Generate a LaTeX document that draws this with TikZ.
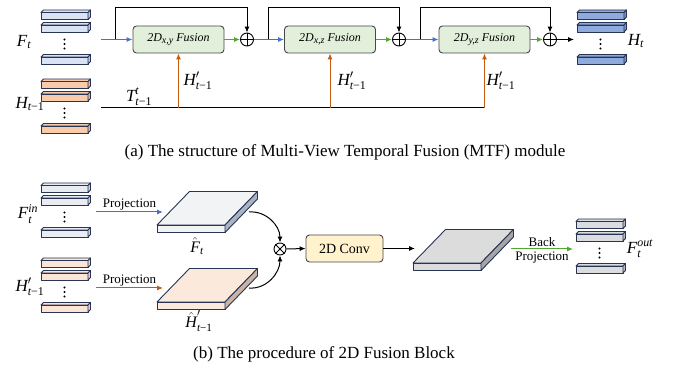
\documentclass[tikz,border=0pt]{standalone}
\usepackage{fontspec}
\usepackage{amsmath}
\setmainfont{Liberation Serif}
\usetikzlibrary{arrows.meta,calc}

% palette
\definecolor{navy}{RGB}{40,52,84}
\definecolor{boxedge}{RGB}{70,70,70}
\definecolor{fusefill}{HTML}{E2EFDA}
\definecolor{convfill}{HTML}{FFF2CC}
\definecolor{arrblue}{HTML}{4472C4}
\definecolor{arrgreen}{HTML}{4EA72E}
\definecolor{arrorange}{HTML}{C55A11}
\definecolor{ftfill}{HTML}{DAE3F3}
\definecolor{ftside}{HTML}{B4C4E0}
\definecolor{hfill}{HTML}{F8CBAD}
\definecolor{hside}{HTML}{E8B08C}
\definecolor{houtfill}{HTML}{8FAADC}
\definecolor{houtside}{HTML}{7393CC}
\definecolor{finfill}{HTML}{E9ECF1}
\definecolor{finside}{HTML}{C8CFDA}
\definecolor{hpfill}{HTML}{FBE5D6}
\definecolor{hpside}{HTML}{EBCDB8}
\definecolor{foutfill}{HTML}{DADCE0}
\definecolor{foutside}{HTML}{B7BBC3}
\definecolor{slabAtop}{HTML}{F2F3F5}
\definecolor{slabAside}{HTML}{A9B3C4}
\definecolor{slabBtop}{HTML}{FBE9DC}
\definecolor{slabBside}{HTML}{C9B3A4}
\definecolor{slabCtop}{HTML}{DCDCDC}
\definecolor{slabCside}{HTML}{A6A6A6}

\newcommand{\mv}[1]{\textit{#1}}
% lowered axis pair inside the fusion boxes
\newcommand{\axes}[1]{\raisebox{-2.5pt}{\fontsize{10}{12}\selectfont #1}}

% one feature bar: x, y of the front face's top-left corner, fill, side fill
\newcommand{\featbar}[4]{%
  \filldraw[barline, fill=#3] (#1,#2) rectangle ++(47,7);
  \filldraw[barline, fill=#3] (#1,#2) -- ++(2.5,-2.5) -- ++(47,0) -- ++(-2.5,2.5) -- cycle;
  \filldraw[barline, fill=#4] (#1+47,#2) -- ++(2.5,-2.5) -- ++(0,7) -- ++(-2.5,2.5) -- cycle;
}
% a stack of bars with a vertical ellipsis
\newcommand{\featstack}[4]{%
  \featbar{#1}{#2}{#3}{#4}
  \featbar{#1}{#2+12.5}{#3}{#4}
  \featbar{#1}{#2+44.5}{#3}{#4}
  \foreach \k in {0,1,2} \fill (#1+23.5,#2+27+\k*4.5) circle (1.1);
}
% a flat slab: x, y of the front face's top-left corner, face fill, side fill
\newcommand{\slab}[4]{%
  \filldraw[barline, fill=#3] (#1,#2) rectangle ++(68,7.5);
  \filldraw[barline, fill=#3] (#1,#2) -- ++(32.5,-33.5) -- ++(68,0) -- ++(-32.5,33.5) -- cycle;
  \filldraw[barline, fill=#4] (#1+68,#2) -- ++(32.5,-33.5) -- ++(0,7.5) -- ++(-32.5,33.5) -- cycle;
}

\tikzset{
  barline/.style={draw=navy, line width=0.9pt, line join=round},
  fusebox/.style={draw=boxedge, fill=fusefill, rounded corners=3.5pt, line width=0.9pt,
    minimum width=91pt, minimum height=27pt, inner sep=0pt,
    font=\fontsize{12}{14}\selectfont\itshape},
  convbox/.style={draw=boxedge, fill=convfill, rounded corners=3.5pt, line width=0.9pt,
    minimum width=77pt, minimum height=27pt, inner sep=0pt,
    font=\fontsize{14}{16}\selectfont},
  opnode/.style={circle, draw, line width=0.9pt, minimum size=13pt, inner sep=0pt},
  conn/.style={line width=1pt, -{Latex[length=6pt,width=5pt]}},
  plain/.style={line width=1pt},
  biglabel/.style={font=\fontsize{17}{19}\selectfont, inner sep=0pt},
  hatlabel/.style={font=\fontsize{16}{18}\selectfont, inner sep=0pt},
  txt/.style={font=\fontsize{13}{15}\selectfont, inner sep=1pt, text=black},
  caption/.style={font=\fontsize{17}{19}\selectfont, inner sep=0pt},
}

\begin{document}
\begin{tikzpicture}[x=1pt, y=-1pt]
\useasboundingbox (0,0) rectangle (678,371);

% ---------------- (a) MTF module ----------------
\featstack{41}{12.5}{ftfill}{ftside}
\featstack{41}{81.5}{hfill}{hside}
\featstack{577}{12.5}{houtfill}{houtside}

\node[biglabel] (lft) at (24,42) {$\mv{F}_{\mv{t}}$};
\node[biglabel] (lht1) at (30,104) {$\mv{H}_{\mv{t}\text{−1}}$};
\node[biglabel] (lht) at (636,41) {$\mv{H}_{\mv{t}}$};

\node[fusebox] (f1) at (178.5,39.5) {2D\axes{x,y} Fusion};
\node[fusebox] (f2) at (330,39.5) {2D\axes{x,z} Fusion};
\node[fusebox] (f3) at (484.5,39.5) {2D\axes{y,z} Fusion};

\node[opnode] (p1) at (247,39.5) {};
\node[opnode] (p2) at (399,39.5) {};
\node[opnode] (p3) at (550,39.5) {};
\foreach \p in {p1,p2,p3}
  \draw[line width=0.9pt] (\p.north) -- (\p.south) (\p.west) -- (\p.east);

\coordinate (fin) at (101,39.5);
\coordinate (br1) at (115,39.5);
\coordinate (br2) at (268.5,39.5);
\coordinate (br3) at (420.5,39.5);
\coordinate (hout) at (574,39.5);

\draw[conn, arrblue] (fin) -- (f1.west);
\draw[conn, arrblue] (p1.east) -- (f2.west);
\draw[conn, arrblue] (p2.east) -- (f3.west);
\draw[conn, arrgreen] (f1.east) -- (p1.west);
\draw[conn, arrgreen] (f2.east) -- (p2.west);
\draw[conn, arrgreen] (f3.east) -- (p3.west);
\draw[conn] (p3.east) -- (hout);

\draw[conn, line join=miter] (br1) -- ++(0,-32) -| (p1.north);
\draw[conn, line join=miter] (br2) -- ++(0,-32) -| (p2.north);
\draw[conn, line join=miter] (br3) -- ++(0,-32) -| (p3.north);

\coordinate (tstart) at (101,108);
\draw[plain] (tstart) -- (f3.south |- tstart);
\draw[conn, arrorange] (f1.south |- tstart) -- (f1.south);
\draw[conn, arrorange] (f2.south |- tstart) -- (f2.south);
\draw[conn, arrorange] (f3.south |- tstart) -- (f3.south);

\node[biglabel] (lT) at (139,97) {$\mv{T}^{\mv{t}}_{\mv{t}\text{−1}}$};
\node[biglabel] (lh1) at (198,81) {$\mv{H}'_{\mv{t}\text{−1}}$};
\node[biglabel] (lh2) at (352,81) {$\mv{H}'_{\mv{t}\text{−1}}$};
\node[biglabel] (lh3) at (501,81) {$\mv{H}'_{\mv{t}\text{−1}}$};

\node[caption] (capa) at (345,152) {(a) The structure of Multi-View Temporal Fusion (MTF) module};

% ---------------- (b) 2D fusion block ----------------
\featstack{41}{185.5}{finfill}{finside}
\featstack{41}{260.5}{hpfill}{hpside}
\featstack{576}{221.5}{foutfill}{foutside}

\node[biglabel] (lfin) at (28,214) {$\mv{F}^{\mv{in}}_{\mv{t}}$};
\node[biglabel] (lhp) at (30,287) {$\mv{H}'_{\mv{t}\text{−1}}$};
\node[biglabel] (lfout) at (640,249) {$\mv{F}^{\mv{out}}_{\mv{t}}$};

\slab{157}{225}{slabAtop}{slabAside}
\slab{157}{302}{slabBtop}{slabBside}
\slab{413}{263}{slabCtop}{slabCside}

\node[hatlabel] (lfhat) at (197,246) {$\hat{\mv{F}}_{\mv{t}}$};
\node[hatlabel] (lhhat) at (199,321) {$\hat{\mv{H}}'_{\mv{t}\text{−1}}$};

\coordinate (pa1) at (96,212);
\coordinate (pa2) at (163,212);
\coordinate (pb1) at (96,288);
\coordinate (pb2) at (163,288);
\draw[conn, arrblue] (pa1) -- node[txt, above] {Projection} (pa2);
\draw[conn, arrorange] (pb1) -- node[txt, above] {Projection} (pb2);

\node[circle, draw, line width=0.9pt, minimum size=12pt, inner sep=0pt] (ot) at (280,249) {};
\draw[line width=0.9pt] (ot.north west) -- (ot.south east) (ot.north east) -- (ot.south west);

\coordinate (ca) at (249,212);
\coordinate (cb) at (249,288);
\draw[conn] (ca) to[out=5, in=90] (ot.north);
\draw[conn] (cb) to[out=-5, in=-90] (ot.south);

\node[convbox] (conv) at (344.5,248.5) {2D Conv};
\coordinate (slabin) at (415,248.5);
\draw[conn] (ot.east) -- (conv.west);
\draw[conn] (conv.east) -- (slabin);

\coordinate (bp1) at (511,249);
\coordinate (bp2) at (573,249);
\draw[conn, arrgreen] (bp1) -- node[txt, above=1pt] {Back} node[txt, below=1pt] {Projection} (bp2);

\node[caption] (capb) at (324,354) {(b) The procedure of 2D Fusion Block};
\end{tikzpicture}
\end{document}
